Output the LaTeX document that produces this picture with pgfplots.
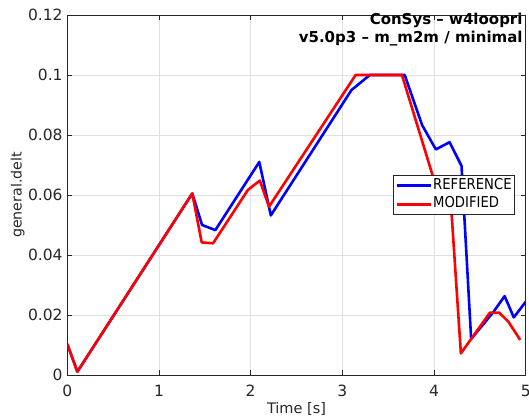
\documentclass[border=0pt]{standalone}
\usepackage{fontspec}
\setmainfont{DejaVu Sans}
\newfontfamily\legfont{DejaVu Sans}[FakeStretch=0.88]
\usepackage{pgfplots}
\pgfplotsset{compat=1.18}
\definecolor{axgray}{RGB}{38,38,38}
\definecolor{gridgray}{RGB}{223,223,223}
\begin{document}
\begin{tikzpicture}
\begin{axis}[
  name=ax,
  at={(0pt,0pt)}, anchor=south west,
  scale only axis, width=458.4pt, height=360pt,
  xmin=0, xmax=5, ymin=0, ymax=0.12,
  xtick={0,1,2,3,4,5}, xticklabels={0,1,2,3,4,5},
  ytick={0,0.02,0.04,0.06,0.08,0.1,0.12},
  yticklabels={0,0.02,0.04,0.06,0.08,0.1,0.12},
  ticklabel style={font=\fontsize{15.5}{18}\selectfont, text=axgray},
  yticklabel style={inner sep=0pt, xshift=-4.5pt},
  xticklabel style={inner sep=0pt, yshift=-10pt},
  axis line style={axgray, line width=0.8pt},
  tick style={axgray, line width=0.8pt},
  major tick length=5pt, tick align=inside,
  grid=major, major grid style={gridgray, line width=0.8pt},
  xlabel={Time [s]},
  xlabel style={at={(axis description cs:0.5,-0.10556)}, anchor=base, inner sep=0pt, font=\fontsize{14.5}{17}\selectfont, text=axgray},
  ylabel={general.delt},
  ylabel style={at={(axis description cs:-0.0998,0.5)}, anchor=base, inner sep=0pt, font=\fontsize{14.2}{17}\selectfont, text=axgray},
  title={ConSys -- w4loopri\\v5.0p3 -- m\_m2m / minimal},
  title style={at={(axis description cs:0.9935,0.9903)}, anchor=north east, align=right, inner sep=0pt, font=\fontsize{15}{18.3}\selectfont\bfseries, text=black},
  legend style={at={(axis description cs:1,0.5)}, anchor=east, xshift=-10.7pt,
    draw=axgray, line width=0.8pt, fill=white,
    font=\legfont\fontsize{15}{17}\selectfont, text=black,
    inner xsep=2pt, inner ysep=2pt, row sep=1.5pt,
    cells={anchor=west},
    nodes={inner sep=1pt, text height=11pt, text depth=4pt}},
  legend image code/.code={\draw[#1] (0pt,0pt) -- (34pt,0pt);},
  every axis plot/.append style={line width=2.6pt, line join=round},
]
\addplot[blue] coordinates {
 (0,0.0103) (0.11,0.0011) (1.363,0.0605) (1.47,0.0500) (1.615,0.0483)
 (2.094,0.0710) (2.22,0.0532) (3.10,0.0950) (3.30,0.1000) (3.68,0.1000)
 (3.87,0.0833) (4.02,0.0752) (4.17,0.0776) (4.30,0.0697) (4.405,0.0120)
 (4.65,0.0211) (4.77,0.0263) (4.87,0.0192) (5.00,0.0244)
};
\addlegendentry{REFERENCE}
\addplot[red] coordinates {
 (0,0.0103) (0.11,0.0011) (1.363,0.0605) (1.466,0.0442) (1.59,0.0439)
 (1.97,0.0617) (2.10,0.0648) (2.20,0.0561) (3.145,0.1000) (3.65,0.1000)
 (3.99,0.0660) (4.19,0.0545) (4.293,0.0072) (4.61,0.0208) (4.71,0.0208)
 (4.81,0.0178) (4.94,0.0117)
};
\addlegendentry{MODIFIED}
\end{axis}
\pgfresetboundingbox
\useasboundingbox (-67.3pt,-44pt) rectangle (461.7pt,375pt);
\end{tikzpicture}
\end{document}
